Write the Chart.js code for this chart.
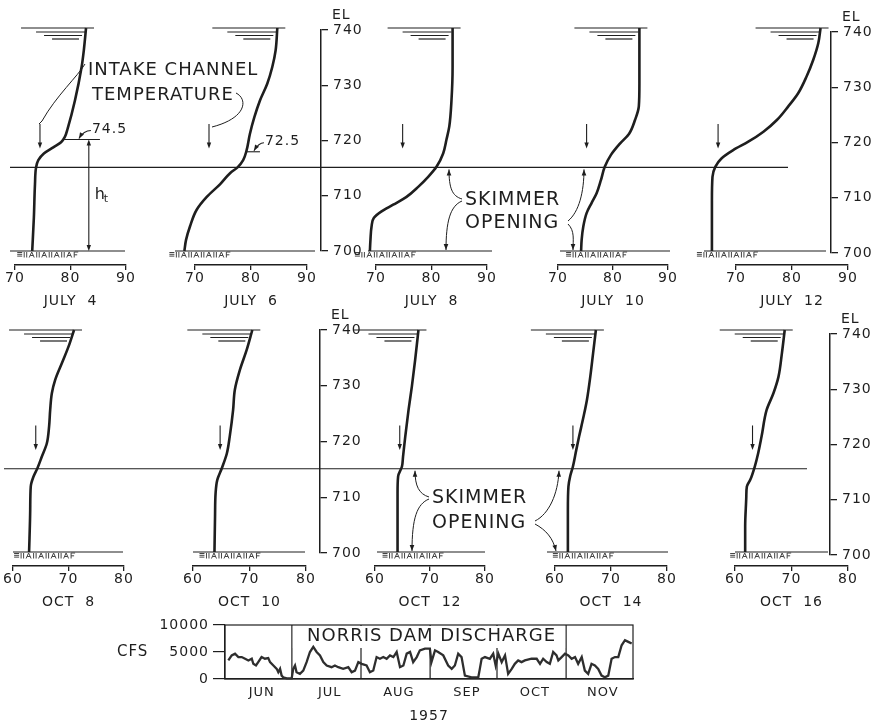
<!DOCTYPE html>
<html>
<head>
<meta charset="utf-8">
<script src="https://cdn.jsdelivr.net/npm/chart.js@4.4.0/dist/chart.umd.min.js"></script>
<style>
  html, body { margin: 0; padding: 0; background: #fff; }
  #wrap { position: relative; width: 876px; height: 725px; overflow: hidden; background: #fff; }
  #wrap canvas { position: absolute; left: 0; top: 0; }
</style>
</head>
<body>
<div id="wrap"></div>
<script>
// ---------------- data ----------------
// Reservoir temperature profiles: elevation (ft) and temperature (deg F)
const elJul4  = [740, 736, 733, 727, 722, 720.5, 719.5, 718.6, 717.5, 716.3, 715, 712, 706, 700];
const tJul4   = [82.8, 82.4, 82.0, 80.8, 79.5, 79.0, 78.3, 76.9, 75.2, 74.2, 73.8, 73.6, 73.4, 73.1];
const elJul6  = [740, 736, 733, 730, 727, 724, 721, 718, 716.3, 715, 714, 712, 709.7, 707.4, 704.4, 702, 700];
const tJul6   = [84.7, 84.4, 83.8, 82.9, 81.6, 80.6, 79.8, 79.2, 78.6, 77.6, 76.3, 74.5, 72.1, 70.3, 69.1, 68.4, 68.1];
const elJul8  = [740, 733, 727, 722.3, 720, 717.5, 715.1, 713.3, 711.5, 709.7, 708.3, 707.1, 705.9, 704.4, 702, 700];
const tJul8   = [83.8, 83.8, 83.6, 83.2, 82.7, 82.1, 80.9, 79.4, 77.6, 75.5, 73.1, 71.0, 69.6, 69.2, 69.0, 68.9];
const elJul10 = [740, 730, 726, 723.5, 721, 719.3, 717.2, 715.1, 712.7, 710.3, 708.6, 706.8, 704.4, 702, 700];
const tJul10  = [84.8, 84.8, 84.7, 84.0, 82.9, 81.3, 79.6, 78.5, 77.8, 77.0, 76.1, 75.2, 74.6, 74.3, 74.2];
const elJul12 = [740, 737.3, 734.3, 731.3, 728.3, 725.9, 723.5, 721.4, 719.6, 718.1, 716.6, 715.1, 713.3, 709, 700];
const tJul12  = [85.1, 84.7, 83.8, 82.6, 81.1, 79.3, 77.3, 74.9, 72.2, 69.5, 67.4, 66.3, 65.8, 65.7, 65.7];
const elOct8  = [740, 737, 734, 731, 728.6, 725.6, 722.6, 719.6, 717.2, 715.1, 713.6, 711.8, 707.6, 700];
const tOct8   = [71.0, 70.0, 68.8, 67.6, 67.0, 66.7, 66.5, 66.1, 65.2, 64.4, 63.7, 63.2, 63.1, 62.9];
const elOct10 = [740, 736.4, 732.8, 729.2, 725.6, 720.8, 717.8, 715.1, 713, 710.6, 706.4, 700];
const tOct10  = [70.5, 69.5, 68.3, 67.4, 67.1, 66.5, 66.0, 65.1, 64.3, 64.0, 63.9, 63.8];
const elOct12 = [740, 734.6, 729.8, 725.6, 720.8, 717.2, 715.4, 713.6, 710.6, 700];
const tOct12  = [67.9, 67.3, 66.7, 66.1, 65.5, 65.1, 64.9, 64.2, 64.1, 64.1];
const elOct14 = [740, 735.8, 731.6, 727.4, 724.4, 720.8, 718.4, 715.4, 713.6, 711.8, 707.6, 700];
const tOct14  = [67.3, 66.8, 66.3, 65.7, 65.1, 64.3, 63.8, 63.2, 62.7, 62.4, 62.3, 62.3];
const elOct16 = [740, 735.8, 731.6, 728.6, 725.6, 720.8, 717.8, 715.4, 713, 711.8, 710, 704.6, 700];
const tOct16  = [68.8, 68.3, 67.7, 66.8, 65.6, 64.7, 64.1, 63.5, 62.7, 62.1, 62.0, 61.8, 61.8];

// Intake channel temperature (deg F) on each date
const intakeJuly = [74.5, 72.5, 74.8, 75.2, 66.8];
const intakeOct  = [64.1, 64.8, 64.5, 63.2, 63.1];

const julyDates = ['JULY  4', 'JULY  6', 'JULY  8', 'JULY  10', 'JULY  12'];
const octDates  = ['OCT  8', 'OCT  10', 'OCT  12', 'OCT  14', 'OCT  16'];

const skimmerTopEl = 715;       // top of skimmer opening
const htTopEl = 720;            // top of h_t dimension (July 4)
const mark725El = 717.8;        // 72.5 marker elevation (July 6)

// Norris Dam discharge, 1957: day counted from June 1, flow in cfs
const dischargeDay = [1.5, 3, 4.5, 6, 7.5, 9, 10.5, 12, 12.7, 13.9, 14.9, 16.4, 17.9, 19.4, 20.2, 21.7, 23.2, 23.9, 24.7, 25.4,
  26.1, 27.7, 29.9, 30.6, 31.4, 32.1, 33.6, 35.1, 36.6, 38.1, 39.6, 41.1, 42.6, 44.1, 45.6, 47.8, 49.3, 50.8, 53.0, 55.3,
  56.8, 58.3, 59.8, 61.3, 63.5, 65.0, 66.5, 68.0, 69.5, 71.0, 72.5, 74.0, 75.5, 77.0, 78.5, 80.0, 81.5, 83.0, 84.4, 86.0,
  87.4, 89.7, 91.9, 92.6, 94.2, 95.6, 97.9, 100.1, 101.7, 103.1, 104.6, 106.1, 107.6, 110.6, 113.6, 114.3, 115.1, 116.6, 118.8, 120.3,
  121.4, 122.6, 124.1, 125.6, 127.0, 128.6, 130.0, 131.5, 133.0, 134.5, 137.5, 139.8, 141.3, 142.7, 144.3, 145.7, 147.2, 148.7, 149.5, 151.0,
  152.5, 154.0, 155.5, 157.0, 158.4, 160.0, 161.4, 162.9, 164.4, 165.9, 167.4, 168.9, 170.4, 171.9, 173.4, 174.9, 176.4, 177.9, 179.4, 180.9, 182.4];
const dischargeCfs = [3440, 4375, 4690, 4060, 4060, 3750, 3440, 3750, 2810, 2500, 3125, 4060, 3750, 3875, 3125, 2500, 1875, 1250, 1875, 625,
  310, 125, 125, 1875, 2500, 1250, 940, 1560, 3125, 5000, 5940, 5000, 4375, 3125, 2500, 2190, 2500, 2190, 1875, 2190,
  1250, 1560, 3125, 2810, 2500, 1250, 1560, 4060, 3750, 4060, 3750, 4375, 4060, 5000, 2190, 2500, 4690, 5000, 3125, 4060,
  5310, 5625, 5625, 3125, 5310, 5000, 4375, 2500, 1875, 2500, 4690, 4060, 625, 310, 310, 1875, 3750, 4060, 3750, 4690,
  2500, 4690, 3125, 4375, 940, 1875, 2810, 3440, 3125, 3440, 3750, 3750, 2810, 3750, 3125, 2810, 5000, 4375, 3440, 4060,
  4690, 4375, 3750, 4060, 2810, 4060, 1560, 940, 2810, 2500, 1875, 625, 310, 625, 3750, 4060, 4060, 6250, 7190, 6875, 6560];

const monthNames = ['JUN', 'JUL', 'AUG', 'SEP', 'OCT', 'NOV'];
const monthStartDay = [0, 30, 61, 92, 122, 153];
const monthLabelDay = [16.5, 47, 78, 108.5, 139, 169.5];

// ---------------- drawing ----------------
const W = 876, H = 725;
const FONT = '"DejaVu Sans", "Liberation Sans", Arial, sans-serif';
const INK = '#1e1e1e';
Chart.defaults.font.family = FONT;
Chart.defaults.color = INK;
Chart.register({ id: 'lettering', beforeDraw(chart) { chart.ctx.letterSpacing = '1px'; } });

const wrap = document.getElementById('wrap');
function addCanvas() {
  const c = document.createElement('canvas');
  c.width = W; c.height = H;
  c.style.width = W + 'px'; c.style.height = H + 'px';
  wrap.appendChild(c);
  return c.getContext('2d');
}
function seg(c, x1, y1, x2, y2) { c.beginPath(); c.moveTo(x1, y1); c.lineTo(x2, y2); c.stroke(); }
function head(c, x, y, ang, len = 6, w = 2.3) {
  const bx = x - len * Math.cos(ang), by = y - len * Math.sin(ang);
  c.beginPath();
  c.moveTo(x, y);
  c.lineTo(bx + w * Math.sin(ang), by - w * Math.cos(ang));
  c.lineTo(bx - w * Math.sin(ang), by + w * Math.cos(ang));
  c.closePath(); c.fill();
}
function curve(c, p0, p1, p2, p3) {
  c.beginPath(); c.moveTo(p0[0], p0[1]);
  c.bezierCurveTo(p1[0], p1[1], p2[0], p2[1], p3[0], p3[1]); c.stroke();
}
function curveArrow(c, p0, p1, p2, p3) {
  curve(c, p0, p1, p2, p3);
  head(c, p3[0], p3[1], Math.atan2(p3[1] - p2[1], p3[0] - p2[0]));
}
function txt(c, s, x, y, size, align) {
  c.font = size + 'px ' + FONT; c.fillStyle = INK;
  c.textAlign = align || 'left'; c.textBaseline = 'middle';
  c.fillText(s, x, y);
}
function hatch(c, x0, y) {
  c.save(); c.lineWidth = 1; c.strokeStyle = '#444';
  for (let i = 0; i < 3; i++) seg(c, x0, y + 1.5 + i * 1.8, x0 + 5, y + 1.5 + i * 1.8);
  let x = x0 + 7;
  for (let k = 0; k < 4; k++) {
    seg(c, x, y + 1, x, y + 6.5); seg(c, x + 2.5, y + 1, x + 2.5, y + 6.5);
    seg(c, x + 5, y + 6.5, x + 7.5, y + 1); seg(c, x + 7.5, y + 1, x + 10, y + 6.5); seg(c, x + 6, y + 4.5, x + 9, y + 4.5);
    x += 12.5;
  }
  seg(c, x, y + 1, x, y + 6.5); seg(c, x, y + 1, x + 4, y + 1); seg(c, x, y + 3.8, x + 3, y + 3.8);
  c.restore();
}

// water surface sign: [start offset, end offset, drop] in px from the surface point
const surfaceMarks = [[-65, 8, 0], [-50, -1, 4], [-42, -4, 7.5], [-34, -7, 11]];

const panelDecor = {
  id: 'panelDecor',
  beforeDatasetsDraw(chart, args, o) {
    const c = chart.ctx, xs = chart.scales.x, ys = chart.scales.y, a = chart.chartArea;
    const d = chart.data.datasets[0].data;
    const ya = ys.getPixelForValue(740), yb = ys.getPixelForValue(700);
    c.save();
    c.strokeStyle = INK; c.fillStyle = INK; c.lineWidth = 1.2;
    const xt = xs.getPixelForValue(d[0].x);
    surfaceMarks.forEach(m => seg(c, xt + m[0], ya + m[2], xt + m[1], ya + m[2]));
    seg(c, a.left + o.ground[0], yb, a.right + o.ground[1], yb);
    hatch(c, xs.getPixelForValue(d[d.length - 1].x) - 15, yb);
    const xi = xs.getPixelForValue(o.intake);
    const y1 = ys.getPixelForValue(722.8), y2 = ys.getPixelForValue(718.4);
    c.lineWidth = 1.1;
    seg(c, xi, y1, xi, y2 - 3);
    head(c, xi, y2, Math.PI / 2, 6, 2.2);
    c.restore();
  }
};

function profileChart(p) {
  const ctx = addCanvas();
  const data = p.el.map((e, i) => ({ x: p.t[i], y: e }));
  return new Chart(ctx, {
    type: 'line',
    data: { datasets: [{ data, borderColor: INK, borderWidth: 2.6, pointRadius: 0,
      cubicInterpolationMode: 'monotone', capBezierPoints: false, clip: false, fill: false }] },
    options: {
      responsive: false, animation: false, events: [], indexAxis: 'y',
      layout: { padding: { left: p.area[0], right: W - p.area[1], top: p.top, bottom: H - p.axisY - 45 } },
      plugins: { legend: { display: false }, tooltip: { enabled: false },
        panelDecor: { ground: p.ground, intake: p.intake } },
      scales: {
        x: { type: 'linear', position: 'bottom', min: p.tMin, max: p.tMax,
          ticks: { stepSize: 10, color: INK, font: { size: 14 }, padding: 0, maxRotation: 0, autoSkip: false },
          grid: { drawOnChartArea: false, drawTicks: true, tickLength: 5, color: INK, lineWidth: 1.3 },
          border: { display: true, color: INK, width: 1.5 },
          title: { display: true, text: p.title, color: INK, font: { size: 14 }, padding: 0 },
          afterFit(s) { s.height = 45; } },
        y: { type: 'linear', display: false, min: p.yMin, max: 740 }
      }
    },
    plugins: [panelDecor].concat(p.extra || [])
  });
}

// annotation layers
const julyFourNotes = {
  id: 'julyFourNotes',
  afterDatasetsDraw(chart) {
    const c = chart.ctx, xs = chart.scales.x, ys = chart.scales.y;
    const y = ys.getPixelForValue(htTopEl), yb = ys.getPixelForValue(700);
    const x0 = xs.getPixelForValue(78.7), x1 = xs.getPixelForValue(85.3), xh = xs.getPixelForValue(83.3);
    c.save(); c.strokeStyle = INK; c.fillStyle = INK; c.lineWidth = 1.1;
    seg(c, x0, y, x1, y);
    seg(c, xh, y + 4, xh, yb - 4);
    head(c, xh, y, -Math.PI / 2, 6, 2.2); head(c, xh, yb, Math.PI / 2, 6, 2.2);
    txt(c, intakeJuly[0].toFixed(1), x1 - 8, y - 10, 14);
    curveArrow(c, [x1 - 9, y - 9], [x1 - 15, y - 9], [x1 - 18, y - 6], [x1 - 21, y - 1]);
    txt(c, 'h', xh + 6, y + 55, 16);
    txt(c, 't', xh + 15, y + 60, 11);
    c.restore();
  }
};
const julySixNotes = {
  id: 'julySixNotes',
  afterDatasetsDraw(chart) {
    const c = chart.ctx, xs = chart.scales.x, ys = chart.scales.y;
    const y = ys.getPixelForValue(mark725El);
    const x0 = xs.getPixelForValue(79.0), x1 = xs.getPixelForValue(81.6);
    c.save(); c.strokeStyle = INK; c.fillStyle = INK; c.lineWidth = 1.1;
    seg(c, x0, y, x1, y);
    txt(c, intakeJuly[1].toFixed(1), x1 + 5, y - 10, 14);
    curveArrow(c, [x1 + 4, y - 9], [x1, y - 9], [x1 - 3, y - 6], [x1 - 6, y - 1]);
    c.restore();
  }
};
const topRowNotes = {
  id: 'topRowNotes',
  afterDatasetsDraw(chart) {
    const c = chart.ctx, ys = chart.scales.y;
    const yS = ys.getPixelForValue(skimmerTopEl), y700 = ys.getPixelForValue(700);
    c.save(); c.strokeStyle = INK; c.fillStyle = INK; c.lineWidth = 1.2;
    seg(c, 10, yS, 788, yS);
    txt(c, 'INTAKE CHANNEL', 88, 70, 18);
    txt(c, 'TEMPERATURE', 92, 95, 18);
    c.lineWidth = 1;
    curve(c, [85, 64], [78, 76], [56, 96], [42, 121]);
    seg(c, 42, 121, 39, 124);
    curve(c, [236, 93], [248, 99], [247, 118], [212, 127]);
    txt(c, 'SKIMMER', 465, 200, 19);
    txt(c, 'OPENING', 465, 223, 19);
    curveArrow(c, [462, 199], [452, 196], [449, 188], [449, yS + 2]);
    curveArrow(c, [462, 201], [450, 206], [446, 222], [446, y700 - 1]);
    curveArrow(c, [568, 221], [579, 212], [584, 192], [584, yS + 2]);
    curveArrow(c, [568, 224], [575, 231], [573, 240], [573, y700 - 1]);
    c.restore();
  }
};
const bottomRowNotes = {
  id: 'bottomRowNotes',
  afterDatasetsDraw(chart) {
    const c = chart.ctx, ys = chart.scales.y;
    const yS = ys.getPixelForValue(skimmerTopEl), y700 = ys.getPixelForValue(700);
    c.save(); c.strokeStyle = INK; c.fillStyle = INK; c.lineWidth = 1.2;
    seg(c, 4, yS, 807, yS);
    txt(c, 'SKIMMER', 432, 498, 19);
    txt(c, 'OPENING', 432, 523, 19);
    c.lineWidth = 1;
    curveArrow(c, [429, 497], [419, 494], [415, 486], [415, yS + 2]);
    curveArrow(c, [429, 499], [417, 504], [412, 518], [412, y700 - 1]);
    curveArrow(c, [535, 521], [549, 514], [558, 494], [559, yS + 2]);
    curveArrow(c, [535, 524], [546, 530], [553, 538], [556, y700 - 1]);
    c.restore();
  }
};

// panel placement
const topRow = { top: 28, axisY: 265, yMin: 697.49, tMin: 70, tMax: 90,
  areas: [[15, 126], [195, 307], [376, 487], [558, 668], [736, 848]],
  ground: [[-5, -1], [-20, 8], [-8, 5], [2, 2], [-32, -22]] };
const bottomRow = { top: 330, axisY: 566, yMin: 697.48, tMin: 60, tMax: 80,
  areas: [[13, 124], [193, 306], [375, 485], [555, 667], [735, 848]],
  ground: [[0, -1], [0, -1], [2, 0], [-8, 1], [0, -20]] };

const julyEl = [elJul4, elJul6, elJul8, elJul10, elJul12];
const julyT = [tJul4, tJul6, tJul8, tJul10, tJul12];
const octEl = [elOct8, elOct10, elOct12, elOct14, elOct16];
const octT = [tOct8, tOct10, tOct12, tOct14, tOct16];
const julyExtra = [[julyFourNotes, topRowNotes], [julySixNotes], [], [], []];
const octExtra = [[bottomRowNotes], [], [], [], []];

julyEl.forEach((el, i) => profileChart({
  el, t: julyT[i], title: julyDates[i], intake: intakeJuly[i], area: topRow.areas[i], ground: topRow.ground[i],
  top: topRow.top, axisY: topRow.axisY, yMin: topRow.yMin, tMin: topRow.tMin, tMax: topRow.tMax, extra: julyExtra[i]
}));
octEl.forEach((el, i) => profileChart({
  el, t: octT[i], title: octDates[i], intake: intakeOct[i], area: bottomRow.areas[i], ground: bottomRow.ground[i],
  top: bottomRow.top, axisY: bottomRow.axisY, yMin: bottomRow.yMin, tMin: bottomRow.tMin, tMax: bottomRow.tMax, extra: octExtra[i]
}));

// elevation scales
const elLabel = {
  id: 'elLabel',
  afterDraw(chart) {
    const s = chart.scales.y;
    chart.ctx.save();
    txt(chart.ctx, 'EL', s.left + 11, s.getPixelForValue(740) - 15, 14);
    chart.ctx.restore();
  }
};
function elAxis(axisX, y740, y700) {
  const ctx = addCanvas();
  new Chart(ctx, {
    type: 'line', data: { datasets: [] },
    options: {
      responsive: false, animation: false, events: [],
      layout: { padding: { left: axisX - 10, right: W - axisX - 50, top: y740, bottom: H - y700 } },
      plugins: { legend: { display: false }, tooltip: { enabled: false } },
      scales: {
        x: { type: 'linear', display: false, min: 0, max: 1 },
        y: { type: 'linear', position: 'right', min: 700, max: 740,
          ticks: { stepSize: 10, color: INK, font: { size: 14 }, padding: 5 },
          grid: { drawOnChartArea: false, tickLength: 7, color: INK, lineWidth: 1.3 },
          border: { display: true, color: INK, width: 1.5 },
          afterFit(s) { s.width = 50; } }
      }
    },
    plugins: [elLabel]
  });
}
elAxis(321, 30, 251);
elAxis(831, 32, 253);
elAxis(320, 330, 553);
elAxis(830, 334, 555);

// discharge hydrograph
const dischargeDecor = {
  id: 'dischargeDecor',
  beforeDatasetsDraw(chart) {
    const c = chart.ctx, xs = chart.scales.x, ys = chart.scales.y, a = chart.chartArea;
    c.save(); c.strokeStyle = INK; c.lineWidth = 1.2;
    c.strokeRect(a.left, a.top, a.right - a.left, a.bottom - a.top);
    monthStartDay.slice(1).forEach(d => { const x = xs.getPixelForValue(d); seg(c, x, a.top, x, a.bottom); });
    const x1 = xs.getPixelForValue(monthStartDay[1]), x2 = xs.getPixelForValue(monthStartDay[5]);
    c.fillStyle = '#fff'; c.fillRect(x1 + 1, a.top + 1, x2 - x1 - 2, 22);
    txt(c, 'CFS', 117, ys.getPixelForValue(5000), 15);
    c.restore();
  },
  afterDatasetsDraw(chart) {
    const c = chart.ctx, a = chart.chartArea;
    c.save();
    txt(c, 'NORRIS DAM DISCHARGE', 307, a.top + 11, 18);
    c.restore();
  }
};
(function () {
  const ctx = addCanvas();
  new Chart(ctx, {
    type: 'line',
    data: { datasets: [{ data: dischargeDay.map((d, i) => ({ x: d, y: dischargeCfs[i] })),
      borderColor: '#2e2e2e', borderWidth: 2.3, pointRadius: 0, tension: 0, clip: false, fill: false }] },
    options: {
      responsive: false, animation: false, events: [],
      layout: { padding: { left: 225 - 80, right: W - 633, top: 625, bottom: H - 679 - 46 } },
      plugins: { legend: { display: false }, tooltip: { enabled: false } },
      scales: {
        x: { type: 'linear', min: 0, max: 183,
          afterBuildTicks(s) { s.ticks = monthLabelDay.map(v => ({ value: v })); },
          ticks: { callback: (v, i) => monthNames[i], color: INK, font: { size: 13 }, padding: 6, autoSkip: false, maxRotation: 0 },
          grid: { drawOnChartArea: false, drawTicks: false },
          border: { display: true, color: INK, width: 1.2 },
          title: { display: true, text: '1957', color: INK, font: { size: 14 }, padding: 0 },
          afterFit(s) { s.height = 46; } },
        y: { type: 'linear', min: 0, max: 10000,
          ticks: { stepSize: 5000, callback: v => String(v), color: INK, font: { size: 14 }, padding: 4 },
          grid: { drawOnChartArea: false, tickLength: 12, color: INK, lineWidth: 1.2 },
          border: { display: true, color: INK, width: 1.2 },
          afterFit(s) { s.width = 80; } }
      }
    },
    plugins: [dischargeDecor]
  });
})();
</script>
</body>
</html>
